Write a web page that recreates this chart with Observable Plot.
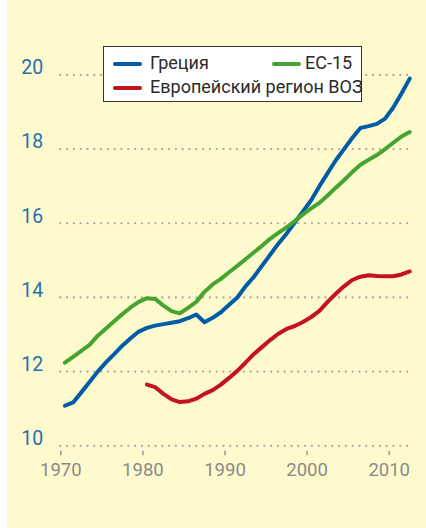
<!DOCTYPE html>
<html>
<head>
<meta charset="utf-8">
<script src="https://cdn.jsdelivr.net/npm/d3@7"></script>
<script src="https://cdn.jsdelivr.net/npm/@observablehq/plot@0.6"></script>
<style>
  body { margin: 0; background: #ffffff; }
  #wrap { position: relative; width: 426px; height: 528px; overflow: hidden; }
  #legend {
    position: absolute; left: 103px; top: 46px; width: 257px; height: 54px;
    background: #ffffff; border: 1px solid #333; font-family: Roboto, sans-serif;
    font-size: 18px; color: #2a2a2a;
  }
  .item { position: absolute; line-height: 18px; white-space: nowrap; }
  .sw { position: absolute; height: 4px; border-radius: 2px; width: 29px; }
</style>
</head>
<body>
<div id="wrap"></div>
<script>
// --- data -------------------------------------------------------------
const years = d3.range(1970, 2013);
const greece = [11.08, 11.17, 11.44, 11.72, 12.00, 12.25, 12.47, 12.70, 12.90, 13.08,
                13.18, 13.24, 13.28, 13.32, 13.36, 13.44, 13.54, 13.33, 13.45, 13.60,
                13.80, 14.00, 14.30, 14.55, 14.85, 15.15, 15.45, 15.72, 16.02, 16.32,
                16.62, 17.00, 17.35, 17.70, 18.00, 18.30, 18.57, 18.62, 18.68, 18.82,
                19.12, 19.50, 19.90];
const eu15 = [12.24, 12.40, 12.56, 12.72, 12.97, 13.16, 13.36, 13.55, 13.73, 13.88,
              13.98, 13.96, 13.78, 13.63, 13.57, 13.72, 13.88, 14.15, 14.35, 14.50,
              14.68, 14.85, 15.03, 15.21, 15.39, 15.58, 15.74, 15.89, 16.06, 16.24,
              16.40, 16.55, 16.75, 16.96, 17.16, 17.38, 17.58, 17.71, 17.84, 18.00,
              18.17, 18.34, 18.46];
const whoYears = d3.range(1980, 2013);
const whoEurope = [11.65, 11.58, 11.40, 11.25, 11.18, 11.20, 11.27, 11.40, 11.50, 11.65,
                   11.83, 12.02, 12.24, 12.47, 12.66, 12.85, 13.02, 13.15, 13.23, 13.34,
                   13.47, 13.64, 13.88, 14.10, 14.30, 14.47, 14.56, 14.60, 14.58, 14.57,
                   14.57, 14.62, 14.70];
const seriesNames = ["Греция", "ЕС-15", "Европейский регион ВОЗ"];
const seriesColors = ["#005ca6", "#45a530", "#c4121f"];
const yTicks = [10, 12, 14, 16, 18, 20];
const xTicks = [1970, 1980, 1990, 2000, 2010];

// --- table ------------------------------------------------------------
const rows = [
  ...years.map((y, i) => ({year: y + 0.5, value: greece[i], series: seriesNames[0]})),
  ...years.map((y, i) => ({year: y + 0.5, value: eu15[i], series: seriesNames[1]})),
  ...whoYears.map((y, i) => ({year: y + 0.5, value: whoEurope[i], series: seriesNames[2]}))
];

const chart = Plot.plot({
  width: 419,
  height: 528,
  marginLeft: 53.3,
  marginRight: 16.8,
  marginTop: 74.4,
  marginBottom: 82.7,
  style: {background: "#fffacd", fontFamily: "Roboto, sans-serif", fontSize: "19px", overflow: "visible"},
  x: {domain: [1970, 2012.5]},
  y: {domain: [10, 20]},
  color: {domain: seriesNames, range: seriesColors},
  marks: [
    Plot.ruleY(yTicks, {stroke: "#a3a3a3", strokeWidth: 2.2, strokeDasharray: "0 6.8", strokeLinecap: "round"}),
    Plot.axisY(yTicks, {tickSize: 0, tickPadding: 17.6, dy: -7, color: "#2470b0", label: null, fontSize: 19.5}),
    Plot.axisX(xTicks, {tickSize: 4.6, dy: 5.4, tickPadding: 7.5, color: "#8a8a8a", label: null,
                        tickFormat: d => String(d), fontSize: 18.5, strokeWidth: 1.3}),
    Plot.line(rows, {x: "year", y: "value", z: "series", stroke: "series",
                     strokeWidth: 4, strokeLinecap: "round", strokeLinejoin: "round"})
  ]
});
chart.style.marginLeft = "7px";
chart.style.display = "block";
const wrap = document.getElementById("wrap");
wrap.appendChild(chart);

// --- legend -----------------------------------------------------------
const legend = document.createElement("div");
legend.id = "legend";
const items = [
  {name: seriesNames[0], color: seriesColors[0], sx: 9, tx: 46, row: 0},
  {name: seriesNames[1], color: seriesColors[1], sx: 168, tx: 201, row: 0},
  {name: seriesNames[2], color: seriesColors[2], sx: 9, tx: 46, row: 1}
];
items.forEach(it => {
  const sw = document.createElement("div");
  sw.className = "sw";
  sw.style.left = it.sx + "px";
  sw.style.top = (it.row === 0 ? 14.5 : 39) + "px";
  sw.style.background = it.color;
  legend.appendChild(sw);
  const t = document.createElement("div");
  t.className = "item";
  t.style.left = it.tx + "px";
  t.style.top = (it.row === 0 ? 6.8 : 30.8) + "px";
  t.textContent = it.name;
  legend.appendChild(t);
});
wrap.appendChild(legend);
</script>
</body>
</html>
